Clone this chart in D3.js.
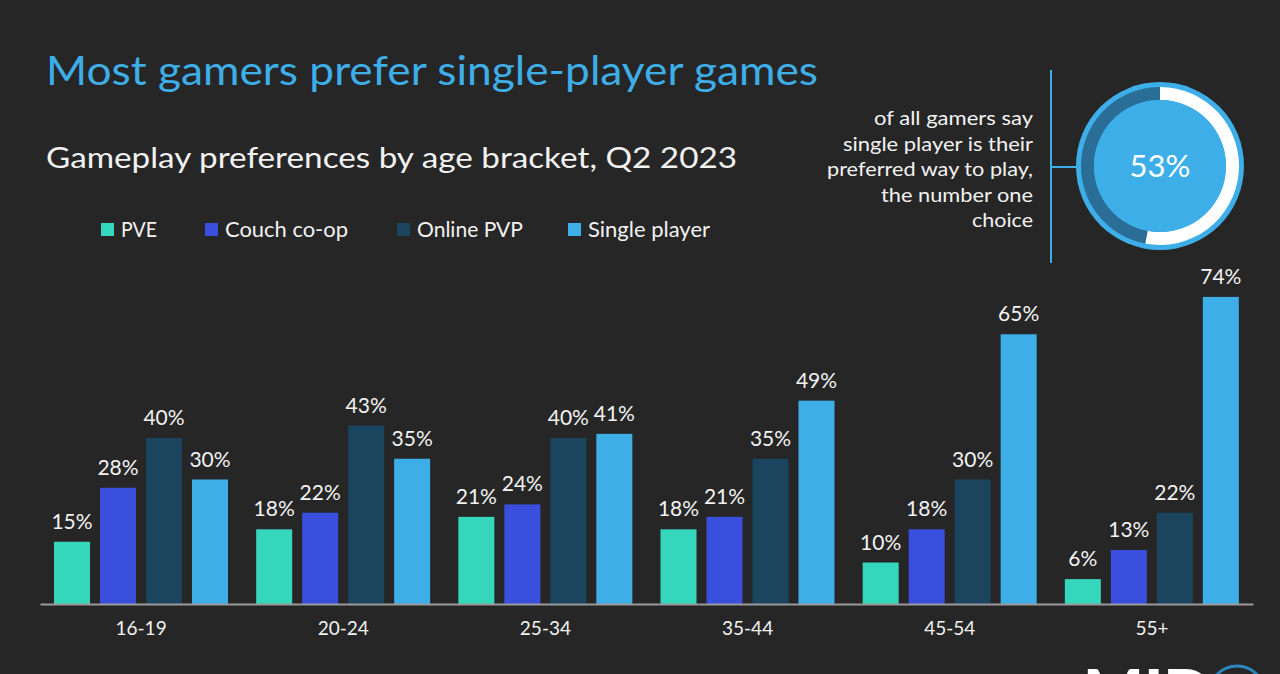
<!DOCTYPE html>
<html><head><meta charset="utf-8">
<script src="https://cdn.jsdelivr.net/npm/d3@7"></script>
<style>
html,body{margin:0;padding:0;background:#262626;overflow:hidden;}
text{font-family:Lato, "Noto Sans", sans-serif;}
</style></head>
<body><svg id="c" width="1280" height="674"></svg>
<script>
const categories = ["16-19","20-24","25-34","35-44","45-54","55+"];
const seriesNames = ["PVE","Couch co-op","Online PVP","Single player"];
const pve = [15,18,21,18,10,6];
const couchCoop = [28,22,24,21,18,13];
const onlinePvp = [40,43,40,35,30,22];
const singlePlayer = [30,35,41,49,65,74];
const overallSingle = 53;
const title = "Most gamers prefer single-player games";
const subtitle = "Gameplay preferences by age bracket, Q2 2023";
const calloutLines = ["of all gamers say","single player is their","preferred way to play,","the number one","choice"];

const colors = ["#35d6bc","#3b4fdf","#1b445e","#3eaee8"];
const series = [pve, couchCoop, onlinePvp, singlePlayer];

const svg = d3.select("#c");
svg.append("rect").attr("width",1280).attr("height",674).attr("fill","#262626");

function fit(sel, w){ sel.attr("textLength",w).attr("lengthAdjust","spacingAndGlyphs"); return sel; }

// Titles
fit(svg.append("text").attr("x",46).attr("y",85).attr("fill","#3eaee8")
  .attr("font-size",41).text(title), 772);
fit(svg.append("text").attr("x",46).attr("y",168).attr("fill","#f2f2f2")
  .attr("font-size",29).text(subtitle), 691);

// Legend
const legendX = [101,205,397,568];
const legendW = [36,123,106,122];
seriesNames.forEach((n,i)=>{
  const g = svg.append("g").attr("transform",`translate(${legendX[i]},223)`);
  g.append("rect").attr("width",13).attr("height",13).attr("fill",colors[i]);
  fit(g.append("text").attr("x",20).attr("y",14).attr("fill","#f2f2f2").attr("font-size",21).text(n), legendW[i]);
});

// Scales
const x0 = d3.scaleBand().domain(categories).range([40,1253]).padding(0);
const x1 = d3.scaleBand().domain(seriesNames).range([14,188]).paddingInner(0.217).paddingOuter(0);
const y = d3.scaleLinear().domain([0,100]).range([604,189]);

const groups = svg.append("g").selectAll("g").data(categories).join("g")
  .attr("transform",d=>`translate(${x0(d)},0)`);
groups.each(function(cat,ci){
  const g = d3.select(this);
  seriesNames.forEach((s,si)=>{
    const v = series[si][ci];
    g.append("rect").attr("x",x1(s)).attr("y",y(v)).attr("width",x1.bandwidth())
      .attr("height",y(0)-y(v)).attr("fill",colors[si]);
    g.append("text").attr("x",x1(s)+x1.bandwidth()/2).attr("y",y(v)-13)
      .attr("text-anchor","middle").attr("fill","#f2f2f2").attr("font-size",21).text(v+"%");
  });
});

// Axis
const axis = svg.append("g").attr("transform","translate(0,604)").call(d3.axisBottom(x0).tickSize(0).tickPadding(18));
axis.select(".domain").attr("stroke","#9a9a9a").attr("stroke-width",2);
axis.selectAll("text").attr("fill","#f2f2f2").attr("font-size",19).attr("font-family","Lato, 'Noto Sans', sans-serif");

// Callout
const calloutW = [159,190,206,152,61];
calloutLines.forEach((l,i)=>{
  fit(svg.append("text").attr("x",1033).attr("y",125+i*25.5).attr("text-anchor","end")
    .attr("fill","#f2f2f2").attr("font-size",20).text(l), calloutW[i]);
});
svg.append("line").attr("x1",1051).attr("x2",1051).attr("y1",70).attr("y2",263)
  .attr("stroke","#3eaee8").attr("stroke-width",2);
svg.append("line").attr("x1",1051).attr("x2",1076).attr("y1",167).attr("y2",167)
  .attr("stroke","#3eaee8").attr("stroke-width",2);

// Donut
const cx = 1160, cy = 166;
const dg = svg.append("g").attr("transform",`translate(${cx},${cy})`);
dg.append("circle").attr("r",84).attr("fill","#3eaee8");
const pie = d3.pie().sort(null)([overallSingle, 100-overallSingle]);
const arc = d3.arc().innerRadius(66).outerRadius(79);
dg.selectAll("path").data(pie).join("path").attr("d",arc)
  .attr("fill",(d,i)=>i===0?"#ffffff":"#2a6e98");
dg.append("circle").attr("r",66).attr("fill","#3eaee8");
dg.append("text").attr("y",11).attr("text-anchor","middle").attr("fill","#ffffff")
  .attr("font-size",31).text(overallSingle+"%");

// Logo (cropped at the bottom edge, as in the reference)
svg.append("text").attr("x",1083).attr("y",716).attr("fill","#ffffff")
  .attr("font-size",64).attr("font-weight",900).text("MID");
svg.append("circle").attr("cx",1237).attr("cy",694).attr("r",28)
  .attr("fill","none").attr("stroke","#2a86bd").attr("stroke-width",3);
</script></body></html>
